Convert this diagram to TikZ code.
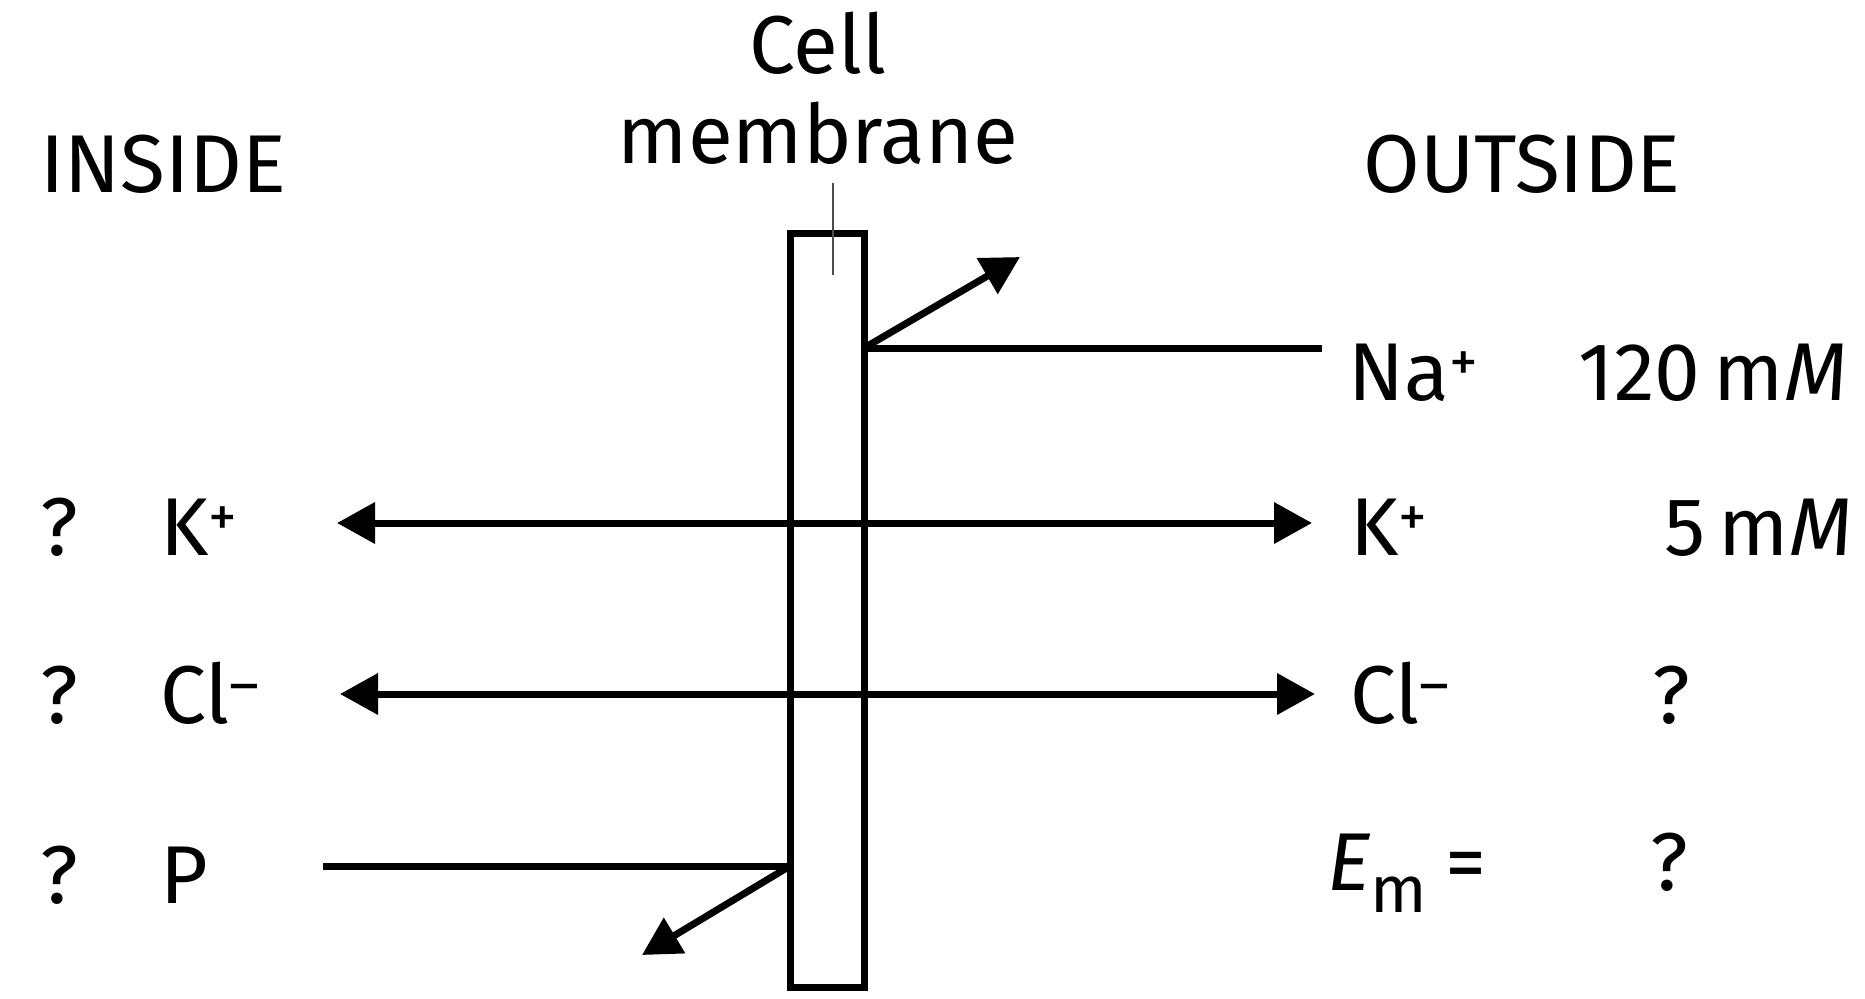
\documentclass[tikz,border=0pt]{standalone}
\usepackage{fontspec}
\setmainfont{Fira Sans}
\usetikzlibrary{arrows.meta}
\begin{document}
\begin{tikzpicture}[x=0.5pt,y=-0.5pt,
  lbl/.style={inner sep=0pt, anchor=base west, font=\fontsize{41}{45}\selectfont},
  line/.style={line width=3.5pt},
  thinline/.style={line width=0.6pt, black!70},
  tip/.style={-{Triangle[length=19pt,width=20pt]}},
  tips/.style={{Triangle[length=19pt,width=20pt]}-{Triangle[length=19pt,width=20pt]}},
  membox/.style={draw, line width=3.5pt, minimum width=37pt, minimum height=377pt, inner sep=0pt, outer sep=0pt}]
\useasboundingbox (0,0) rectangle (1865,998);

% membrane
\node[membox] (mem) at (827,610) {};

% labels
\node[lbl] (inside) at (40,192) {INSIDE};
\node[lbl] (outside) at (1363,192) {OUTSIDE};
\node[lbl, anchor=base] (cell) at (818,73) {Cell};
\node[lbl, anchor=base] (membr) at (818,163) {membrane};

\node[lbl] (q1) at (40,555) {?};
\node[lbl] (kin) at (160,555) {K\textsuperscript{+}};
\node[lbl] (q2) at (40,723) {?};
\node[lbl] (clin) at (160,723) {Cl\textsuperscript{–}};
\node[lbl] (q3) at (40,903) {?};
\node[lbl] (pin) at (160,903) {P};

\node[lbl] (naout) at (1348,400) {Na\textsuperscript{+}};
\node[lbl, anchor=base east] (naconc) at (1848,400) {120\,m\textit{M}};
\node[lbl] (kout) at (1350,555) {K\textsuperscript{+}};
\node[lbl, anchor=base east] (kconc) at (1853,555) {5\,m\textit{M}};
\node[lbl] (clout) at (1350,723) {Cl\textsuperscript{–}};
\node[lbl] (q4) at (1652,723) {?};
\node[lbl] (em) at (1327,890) {\textit{E}\raisebox{-11pt}{\fontsize{33}{40}\selectfont m}\hspace{9pt}=};
\node[lbl] (q5) at (1650,890) {?};

% leader from label to membrane
\coordinate (leadtop) at (833,183);
\draw[thinline] (leadtop) -- ++(0,92);

% Na+
\coordinate (naend) at (1322,348);
\coordinate (natip) at (1020,257);
\draw[line] (naend) -- (naend -| mem.east);
\draw[line,tip] (naend -| mem.east) -- (natip);

% K+
\coordinate (kl) at (337,523);
\coordinate (kr) at (1312,523);
\draw[line,tips] (kl) -- (kr);

% Cl-
\coordinate (cll) at (340,694);
\coordinate (clr) at (1315,694);
\draw[line,tips] (cll) -- (clr);

% P
\coordinate (pl) at (323,866);
\coordinate (ptip) at (642,955);
\draw[line] (pl) -- (pl -| mem.west);
\draw[line,tip] (pl -| mem.west) -- (ptip);
\end{tikzpicture}
\end{document}
